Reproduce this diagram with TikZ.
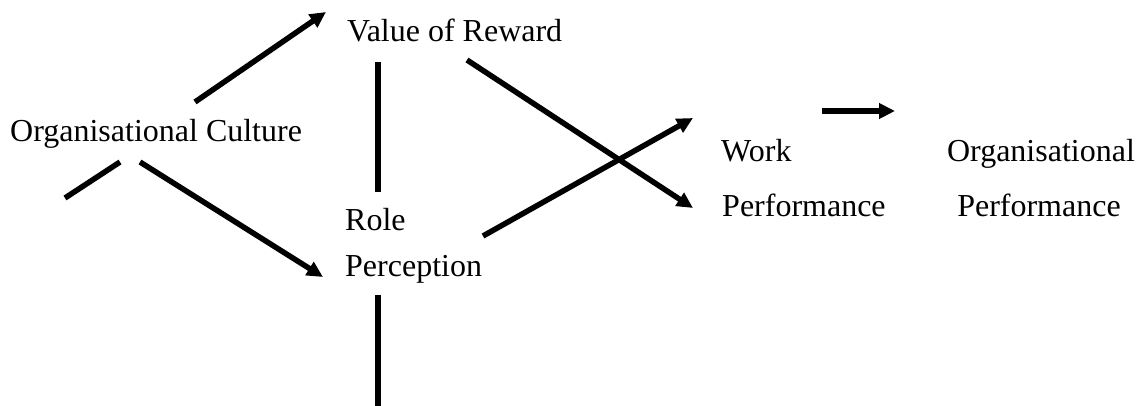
\documentclass[tikz,border=0pt]{standalone}
\usepackage{fontspec}
\setmainfont{Liberation Serif}
\usetikzlibrary{arrows.meta}
\tikzset{
  lbl/.style={font=\fontsize{32}{38}\selectfont, inner sep=0pt, anchor=base west},
  lblc/.style={lbl, anchor=base},
  conn/.style={line width=5.5pt},
  arr/.style={conn, -{Triangle[length=16pt,width=15pt]}}
}
\begin{document}
\begin{tikzpicture}[x=1pt,y=-1pt]
\useasboundingbox (0,0) rectangle (1140,406);
% labels
\node[lbl] (oc) at (10,142) {Organisational Culture};
\node[lbl] (vr) at (347,42) {Value of Reward};
\node[lbl] (role) at (345,230) {Role};
\node[lbl] (perc) at (345,276) {Perception};
\node[lbl] (work) at (721,162) {Work};
\node[lbl] (wperf) at (722,217) {Performance};
\node[lblc] (org) at (1041,162) {Organisational};
\node[lblc] (operf) at (1039,216) {Performance};
% connector end points
\coordinate (ocA) at (195,102);
\coordinate (vrIn) at (326,12);
\coordinate (stubA) at (65,198);
\coordinate (stubB) at (120,162);
\coordinate (ocB) at (140,162);
\coordinate (rpIn) at (323,277);
\coordinate (vrDown) at (378,62);
\coordinate (rpUp) at (378,192);
\coordinate (vrOut) at (467,60);
\coordinate (wpIn) at (693,208);
\coordinate (rpOut) at (483,236);
\coordinate (wkIn) at (693,118);
\coordinate (rpDown) at (378,295);
\coordinate (bottom) at (378,406);
\coordinate (wpOut) at (822,111);
\coordinate (opIn) at (895,111);
% connectors
\draw[arr] (ocA) -- (vrIn);
\draw[conn] (stubA) -- (stubB);
\draw[arr] (ocB) -- (rpIn);
\draw[conn] (vrDown) -- (rpUp);
\draw[arr] (vrOut) -- (wpIn);
\draw[arr] (rpOut) -- (wkIn);
\draw[conn] (rpDown) -- (bottom);
\draw[arr] (wpOut) -- (opIn);
\end{tikzpicture}
\end{document}
